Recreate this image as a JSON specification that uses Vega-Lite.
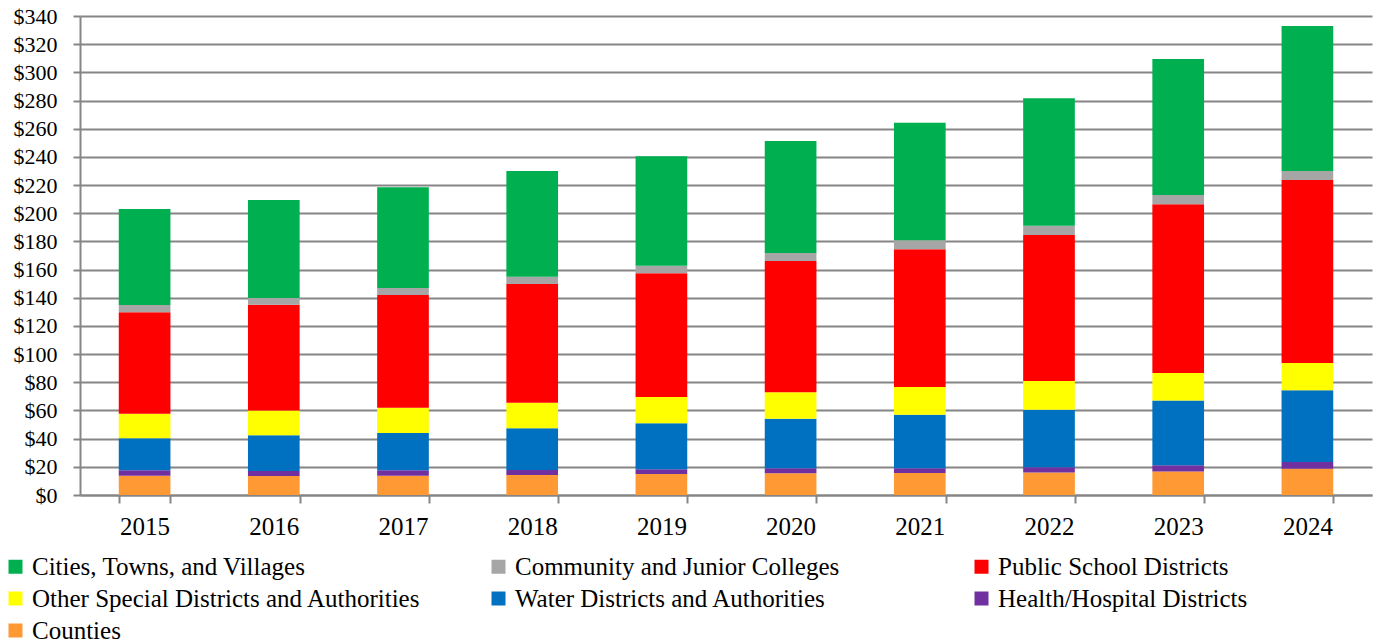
{
  "$schema": "https://vega.github.io/schema/vega-lite/v6.json",
  "width": 1292,
  "height": 479,
  "autosize": {"type": "none"},
  "padding": {"left": 80, "top": 16, "right": 5, "bottom": 149},
  "background": "white",
  "config": {
    "view": {"stroke": null},
    "font": "Liberation Serif",
    "axis": {"labelFont": "Liberation Serif", "labelColor": "#000000", "domainColor": "#868686", "tickColor": "#868686", "gridColor": "#868686"}
  },
  "data": {"values": [
    {"year": "2015", "category": "Counties", "k": 1, "value": 13.7},
    {"year": "2015", "category": "Health/Hospital Districts", "k": 2, "value": 3.8},
    {"year": "2015", "category": "Water Districts and Authorities", "k": 3, "value": 22.7},
    {"year": "2015", "category": "Other Special Districts and Authorities", "k": 4, "value": 17.5},
    {"year": "2015", "category": "Public School Districts", "k": 5, "value": 72.0},
    {"year": "2015", "category": "Community and Junior Colleges", "k": 6, "value": 5.2},
    {"year": "2015", "category": "Cities, Towns, and Villages", "k": 7, "value": 68.1},
    {"year": "2016", "category": "Counties", "k": 1, "value": 13.5},
    {"year": "2016", "category": "Health/Hospital Districts", "k": 2, "value": 3.5},
    {"year": "2016", "category": "Water Districts and Authorities", "k": 3, "value": 25.4},
    {"year": "2016", "category": "Other Special Districts and Authorities", "k": 4, "value": 17.5},
    {"year": "2016", "category": "Public School Districts", "k": 5, "value": 75.2},
    {"year": "2016", "category": "Community and Junior Colleges", "k": 6, "value": 4.7},
    {"year": "2016", "category": "Cities, Towns, and Villages", "k": 7, "value": 69.6},
    {"year": "2017", "category": "Counties", "k": 1, "value": 13.7},
    {"year": "2017", "category": "Health/Hospital Districts", "k": 2, "value": 3.8},
    {"year": "2017", "category": "Water Districts and Authorities", "k": 3, "value": 26.5},
    {"year": "2017", "category": "Other Special Districts and Authorities", "k": 4, "value": 18.0},
    {"year": "2017", "category": "Public School Districts", "k": 5, "value": 80.0},
    {"year": "2017", "category": "Community and Junior Colleges", "k": 6, "value": 4.9},
    {"year": "2017", "category": "Cities, Towns, and Villages", "k": 7, "value": 71.5},
    {"year": "2018", "category": "Counties", "k": 1, "value": 14.2},
    {"year": "2018", "category": "Health/Hospital Districts", "k": 2, "value": 3.5},
    {"year": "2018", "category": "Water Districts and Authorities", "k": 3, "value": 29.6},
    {"year": "2018", "category": "Other Special Districts and Authorities", "k": 4, "value": 18.2},
    {"year": "2018", "category": "Public School Districts", "k": 5, "value": 84.3},
    {"year": "2018", "category": "Community and Junior Colleges", "k": 6, "value": 5.2},
    {"year": "2018", "category": "Cities, Towns, and Villages", "k": 7, "value": 75.0},
    {"year": "2019", "category": "Counties", "k": 1, "value": 14.9},
    {"year": "2019", "category": "Health/Hospital Districts", "k": 2, "value": 3.3},
    {"year": "2019", "category": "Water Districts and Authorities", "k": 3, "value": 32.7},
    {"year": "2019", "category": "Other Special Districts and Authorities", "k": 4, "value": 18.7},
    {"year": "2019", "category": "Public School Districts", "k": 5, "value": 87.8},
    {"year": "2019", "category": "Community and Junior Colleges", "k": 6, "value": 5.4},
    {"year": "2019", "category": "Cities, Towns, and Villages", "k": 7, "value": 77.6},
    {"year": "2020", "category": "Counties", "k": 1, "value": 15.4},
    {"year": "2020", "category": "Health/Hospital Districts", "k": 2, "value": 3.5},
    {"year": "2020", "category": "Water Districts and Authorities", "k": 3, "value": 35.3},
    {"year": "2020", "category": "Other Special Districts and Authorities", "k": 4, "value": 18.7},
    {"year": "2020", "category": "Public School Districts", "k": 5, "value": 93.2},
    {"year": "2020", "category": "Community and Junior Colleges", "k": 6, "value": 5.7},
    {"year": "2020", "category": "Cities, Towns, and Villages", "k": 7, "value": 79.5},
    {"year": "2021", "category": "Counties", "k": 1, "value": 15.6},
    {"year": "2021", "category": "Health/Hospital Districts", "k": 2, "value": 3.3},
    {"year": "2021", "category": "Water Districts and Authorities", "k": 3, "value": 38.1},
    {"year": "2021", "category": "Other Special Districts and Authorities", "k": 4, "value": 19.7},
    {"year": "2021", "category": "Public School Districts", "k": 5, "value": 97.7},
    {"year": "2021", "category": "Community and Junior Colleges", "k": 6, "value": 6.4},
    {"year": "2021", "category": "Cities, Towns, and Villages", "k": 7, "value": 83.5},
    {"year": "2022", "category": "Counties", "k": 1, "value": 15.9},
    {"year": "2022", "category": "Health/Hospital Districts", "k": 2, "value": 3.8},
    {"year": "2022", "category": "Water Districts and Authorities", "k": 3, "value": 40.9},
    {"year": "2022", "category": "Other Special Districts and Authorities", "k": 4, "value": 20.3},
    {"year": "2022", "category": "Public School Districts", "k": 5, "value": 103.7},
    {"year": "2022", "category": "Community and Junior Colleges", "k": 6, "value": 6.6},
    {"year": "2022", "category": "Cities, Towns, and Villages", "k": 7, "value": 90.4},
    {"year": "2023", "category": "Counties", "k": 1, "value": 16.6},
    {"year": "2023", "category": "Health/Hospital Districts", "k": 2, "value": 4.5},
    {"year": "2023", "category": "Water Districts and Authorities", "k": 3, "value": 45.9},
    {"year": "2023", "category": "Other Special Districts and Authorities", "k": 4, "value": 19.6},
    {"year": "2023", "category": "Public School Districts", "k": 5, "value": 119.7},
    {"year": "2023", "category": "Community and Junior Colleges", "k": 6, "value": 6.7},
    {"year": "2023", "category": "Cities, Towns, and Villages", "k": 7, "value": 96.5},
    {"year": "2024", "category": "Counties", "k": 1, "value": 18.7},
    {"year": "2024", "category": "Health/Hospital Districts", "k": 2, "value": 4.7},
    {"year": "2024", "category": "Water Districts and Authorities", "k": 3, "value": 50.9},
    {"year": "2024", "category": "Other Special Districts and Authorities", "k": 4, "value": 19.4},
    {"year": "2024", "category": "Public School Districts", "k": 5, "value": 129.9},
    {"year": "2024", "category": "Community and Junior Colleges", "k": 6, "value": 6.4},
    {"year": "2024", "category": "Cities, Towns, and Villages", "k": 7, "value": 102.9}
  ]},
  "mark": {"type": "bar"},
  "encoding": {
    "x": {
      "field": "year", "type": "nominal", "title": null,
      "scale": {"paddingInner": 0.6, "paddingOuter": 0.3},
      "axis": {"labelAngle": 0, "labelFont": "Liberation Serif", "labelFontSize": 25, "labelPadding": 11, "tickSize": 8, "tickWidth": 2, "domainWidth": 2, "tickBand": "extent", "grid": false}
    },
    "y": {
      "field": "value", "type": "quantitative", "stack": "zero", "title": null,
      "scale": {"domain": [0, 340], "nice": false},
      "axis": {"values": [0,20,40,60,80,100,120,140,160,180,200,220,240,260,280,300,320,340], "format": "$.0f", "labelFont": "Liberation Serif", "labelFontSize": 22, "labelPadding": 16, "tickSize": 7, "tickWidth": 2, "domainWidth": 2, "grid": true, "gridWidth": 2}
    },
    "color": {
      "field": "category", "type": "nominal",
      "scale": {
        "domain": ["Cities, Towns, and Villages", "Community and Junior Colleges", "Public School Districts", "Other Special Districts and Authorities", "Water Districts and Authorities", "Health/Hospital Districts", "Counties"],
        "range": ["#00B050", "#A6A6A6", "#FF0000", "#FFFF00", "#0070C0", "#7030A0", "#FF9933"]
      },
      "legend": {
        "title": null, "orient": "none", "legendX": -77, "legendY": 538,
        "direction": "horizontal", "columns": 3, "gridAlign": "all",
        "columnPadding": 65, "rowPadding": 6, "padding": 0,
        "symbolType": "square", "symbolSize": 196, "symbolStrokeWidth": 0, "symbolOpacity": 1,
        "labelFont": "Liberation Serif", "labelFontSize": 25, "labelColor": "#000000", "labelOffset": 4, "labelLimit": 600
      }
    },
    "order": {"field": "k", "type": "quantitative"}
  }
}
